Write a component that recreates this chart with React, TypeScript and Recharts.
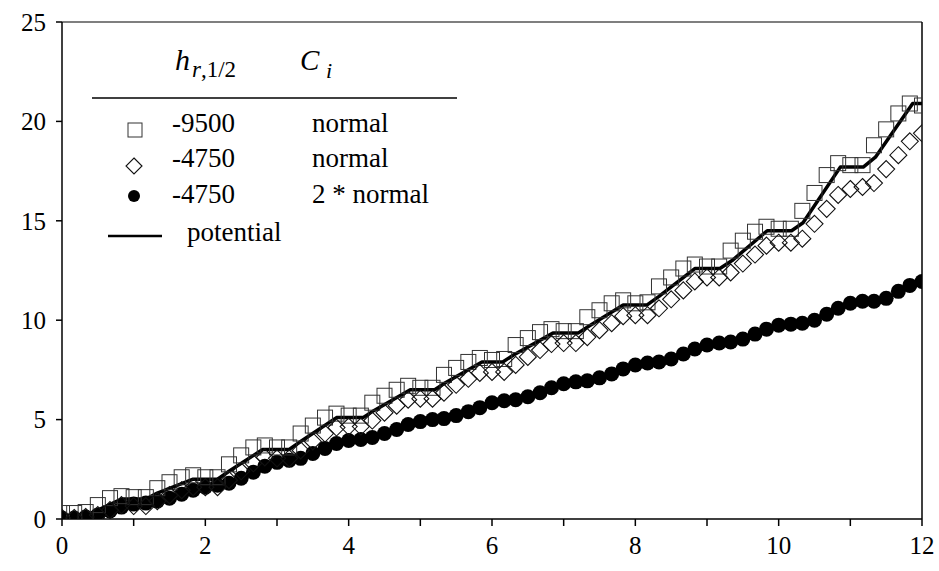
import React from 'react';
import {
  ComposedChart, Scatter, Line, XAxis, YAxis, ReferenceLine,
} from 'recharts';

// marker positions along x (every 1/6)
const X_VALUES = [
  0, 0.17, 0.33, 0.5, 0.67, 0.83, 1, 1.17, 1.33, 1.5, 1.67, 1.83,
  2, 2.17, 2.33, 2.5, 2.67, 2.83, 3, 3.17, 3.33, 3.5, 3.67, 3.83,
  4, 4.17, 4.33, 4.5, 4.67, 4.83, 5, 5.17, 5.33, 5.5, 5.67, 5.83,
  6, 6.17, 6.33, 6.5, 6.67, 6.83, 7, 7.17, 7.33, 7.5, 7.67, 7.83,
  8, 8.17, 8.33, 8.5, 8.67, 8.83, 9, 9.17, 9.33, 9.5, 9.67, 9.83,
  10, 10.17, 10.33, 10.5, 10.67, 10.83, 11, 11.17, 11.33, 11.5, 11.67, 11.83,
  12,
];

// h = -9500, normal
const SQUARE_VALUES = [
  0.3, 0.3, 0.35, 0.7, 1.05, 1.15, 1.1, 1.1, 1.55, 1.85, 2.1, 2.2,
  2.1, 2.1, 2.75, 3.2, 3.6, 3.7, 3.6, 3.6, 4.3, 4.7, 5.1, 5.3,
  5.2, 5.2, 5.85, 6.2, 6.5, 6.7, 6.6, 6.6, 7.25, 7.6, 7.9, 8.1,
  8.0, 8.05, 8.75, 9.1, 9.4, 9.55, 9.45, 9.45, 10.15, 10.5, 10.85, 11.0,
  10.85, 10.9, 11.7, 12.15, 12.6, 12.8, 12.7, 12.7, 13.5, 14.0, 14.45, 14.7,
  14.6, 14.6, 15.5, 16.4, 17.3, 17.9, 17.8, 17.8, 18.8, 19.6, 20.4, 20.9,
  20.8,
];

// h = -4750, normal
const DIAMOND_VALUES = [
  0.05, 0.05, 0.1, 0.2, 0.45, 0.7, 0.65, 0.65, 0.9, 1.2, 1.45, 1.6,
  1.6, 1.6, 1.95, 2.4, 2.8, 3.1, 3.05, 3.05, 3.45, 3.9, 4.3, 4.6,
  4.65, 4.65, 4.95, 5.35, 5.7, 6.0, 6.05, 6.05, 6.35, 6.75, 7.05, 7.35,
  7.4, 7.4, 7.75, 8.15, 8.5, 8.8, 8.85, 8.85, 9.15, 9.5, 9.85, 10.2,
  10.25, 10.25, 10.6, 11.05, 11.5, 11.95, 12.15, 12.15, 12.4, 12.85, 13.3, 13.75,
  13.9, 13.9, 14.1, 14.85, 15.6, 16.3, 16.6, 16.7, 16.9, 17.6, 18.3, 19.0,
  19.4,
];

// h = -4750, 2 * normal
const CIRCLE_VALUES = [
  0.05, 0.05, 0.1, 0.2, 0.4, 0.6, 0.75, 0.8, 0.9, 1.05, 1.25, 1.45,
  1.6, 1.7, 1.8, 2.05, 2.35, 2.65, 2.85, 2.95, 3.05, 3.3, 3.55, 3.8,
  3.95, 4.0, 4.1, 4.3, 4.5, 4.75, 4.9, 5.0, 5.05, 5.2, 5.4, 5.6,
  5.85, 5.95, 6.0, 6.15, 6.35, 6.6, 6.8, 6.9, 6.95, 7.1, 7.3, 7.55,
  7.75, 7.85, 7.9, 8.05, 8.3, 8.55, 8.75, 8.85, 8.9, 9.05, 9.3, 9.55,
  9.75, 9.8, 9.85, 10.0, 10.3, 10.6, 10.85, 10.95, 10.95, 11.1, 11.45, 11.75,
  11.95,
];

// potential: breakpoints of the stepped line
const POTENTIAL_X = [
  0, 0.33, 0.5, 0.83, 1.17, 1.33, 1.83, 2.17, 2.33, 2.8, 3.17, 3.33,
  3.83, 4.2, 4.35, 4.86, 5.2, 5.35, 5.86, 6.15, 6.3, 6.85, 7.2, 7.35,
  7.83, 8.16, 8.33, 8.83, 9.18, 9.35, 9.84, 10.18, 10.34, 10.86, 11.18, 11.35,
  11.87, 12,
];
const POTENTIAL_Y = [
  0.15, 0.2, 0.45, 1.0, 1.0, 1.3, 2.0, 2.0, 2.4, 3.5, 3.5, 3.9,
  5.1, 5.1, 5.45, 6.5, 6.5, 6.85, 7.9, 7.9, 8.25, 9.35, 9.35, 9.7,
  10.76, 10.76, 11.2, 12.6, 12.6, 13.0, 14.5, 14.5, 14.9, 17.7, 17.7, 18.2,
  20.9, 20.9,
];

const X_TICKS = [0, 1, 2, 3, 4, 5, 6, 7, 8, 9, 10, 11, 12];
const Y_TICKS = [0, 5, 10, 15, 20, 25];

const FONT = '"Liberation Serif", Tinos, "Nimbus Roman", "Nimbus Roman No9 L", Times, "Noto Serif", "DejaVu Serif", serif';

const squareData = X_VALUES.map((x, i) => ({ x, y: SQUARE_VALUES[i] }));
const diamondData = X_VALUES.map((x, i) => ({ x, y: DIAMOND_VALUES[i] }));
const circleData = X_VALUES.map((x, i) => ({ x, y: CIRCLE_VALUES[i] }));
const potentialData = POTENTIAL_X.map((x, i) => ({ x, y: POTENTIAL_Y[i] }));

const SquareShape = (props: any) => {
  const { cx, cy } = props;
  return <rect x={cx - 7.5} y={cy - 7.5} width={15} height={15} fill="none" stroke="#333" strokeWidth={1} />;
};

const DiamondShape = (props: any) => {
  const { cx, cy } = props;
  const r = 8.5;
  return (
    <polygon
      points={`${cx},${cy - r} ${cx + r},${cy} ${cx},${cy + r} ${cx - r},${cy}`}
      fill="none"
      stroke="#111"
      strokeWidth={1.1}
    />
  );
};

const CircleShape = (props: any) => {
  const { cx, cy } = props;
  return <circle cx={cx} cy={cy} r={7.5} fill="#000" />;
};

function LegendBox() {
  const t = { fontFamily: FONT, fontSize: 27, fill: '#000' };
  return (
    <svg width={939} height={571} style={{ position: 'absolute', left: 0, top: 0, pointerEvents: 'none' }}>
      <text x={175} y={70} style={{ ...t, fontSize: 30, fontStyle: 'italic' }}>h</text>
      <text x={192} y={77} style={{ ...t, fontSize: 23 }}>
        <tspan fontStyle="italic">r</tspan>,1/2
      </text>
      <text x={300} y={70} style={{ ...t, fontSize: 29, fontStyle: 'italic' }}>C</text>
      <text x={326} y={78} style={{ ...t, fontSize: 22, fontStyle: 'italic' }}>i</text>
      <line x1={92} y1={98} x2={457} y2={98} stroke="#000" strokeWidth={1.5} />

      <rect x={128} y={123} width={14} height={14} fill="none" stroke="#333" strokeWidth={1} />
      <text x={172} y={132} style={t}>-9500</text>
      <text x={312} y={132} style={t}>normal</text>

      <polygon points="134,158 142,166 134,174 126,166" fill="none" stroke="#111" strokeWidth={1.1} />
      <text x={172} y={167} style={t}>-4750</text>
      <text x={312} y={167} style={t}>normal</text>

      <circle cx={134} cy={196} r={6} fill="#000" />
      <text x={172} y={203} style={t}>-4750</text>
      <text x={312} y={203} style={t}>2 * normal</text>

      <line x1={108} y1={236} x2={162} y2={236} stroke="#000" strokeWidth={2.5} />
      <text x={187} y={241} style={t}>potential</text>
    </svg>
  );
}

export default function App() {
  return (
    <div style={{ position: 'relative', width: 939, height: 571, background: '#fff', fontFamily: FONT }}>
      <style>{'body { margin: 0; }'}</style>
      <ComposedChart width={939} height={571} margin={{ top: 22, right: 17, left: 0, bottom: 0 }}>
        <XAxis
          dataKey="x"
          type="number"
          domain={[0, 12]}
          ticks={X_TICKS}
          tickFormatter={(v: number) => (v % 2 === 0 ? String(v) : '')}
          tickSize={7}
          tickMargin={10}
          height={52}
          stroke="#000"
          strokeWidth={1.5}
          tick={{ fill: '#000', fontFamily: FONT, fontSize: 25 }}
          allowDataOverflow
        />
        <YAxis
          dataKey="y"
          type="number"
          domain={[0, 25]}
          ticks={Y_TICKS}
          tickSize={6}
          tickMargin={10}
          width={62}
          stroke="#000"
          strokeWidth={1.5}
          tick={{ fill: '#000', fontFamily: FONT, fontSize: 25 }}
          allowDataOverflow
        />
        <ReferenceLine y={25} stroke="#000" strokeWidth={1.2} />
        <ReferenceLine x={12} stroke="#000" strokeWidth={1.5} />
        <Scatter data={circleData} dataKey="y" shape={CircleShape} isAnimationActive={false} />
        <Scatter data={squareData} dataKey="y" shape={SquareShape} isAnimationActive={false} />
        <Scatter data={diamondData} dataKey="y" shape={DiamondShape} isAnimationActive={false} />
        <Line
          data={potentialData}
          dataKey="y"
          type="linear"
          stroke="#000"
          strokeWidth={3.5}
          strokeLinejoin="round"
          dot={false}
          activeDot={false}
          isAnimationActive={false}
        />
      </ComposedChart>
      <LegendBox />
    </div>
  );
}
